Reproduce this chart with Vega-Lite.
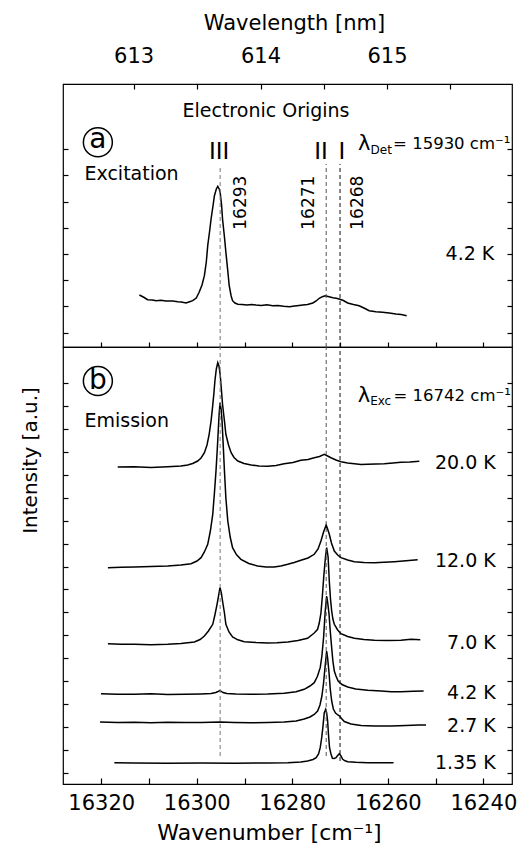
{
"$schema": "https://vega.github.io/schema/vega-lite/v6.json",
"background": "white",
"padding": {"left": 19, "top": 11, "right": 6, "bottom": 5},
"bounds": "flush",
"spacing": 0,
"config": {
  "view": {"stroke": "black", "strokeWidth": 1.2},
  "font": "DejaVu Sans",
  "axis": {"grid": false, "domain": false, "tickColor": "black", "tickWidth": 1.2, "labelColor": "black", "titleColor": "black", "labelFont": "DejaVu Sans", "titleFont": "DejaVu Sans", "titleFontWeight": "normal"},
  "text": {"font": "DejaVu Sans", "color": "black"}
},
"datasets": {
  "excitation": [
    {"wn":16312.0,"I":52},{"wn":16311.0,"I":49.5},{"wn":16310.3,"I":47.3},{"wn":16309.3,"I":47.0},{"wn":16308.5,"I":46.3},{"wn":16307.5,"I":46.8},{"wn":16306.5,"I":46.0},{"wn":16305.0,"I":46.0},{"wn":16304.0,"I":45.3},{"wn":16303.2,"I":45.0},{"wn":16302.25,"I":44},{"wn":16301.5,"I":45.2},{"wn":16300.85,"I":46.3},{"wn":16300.1,"I":49},{"wn":16299.5,"I":54.7},{"wn":16298.9,"I":62},{"wn":16298.4,"I":71.3},{"wn":16298.0,"I":85},{"wn":16297.7,"I":101.3},{"wn":16297.3,"I":116},{"wn":16297.0,"I":128},{"wn":16296.6,"I":141},{"wn":16296.3,"I":151.3},{"wn":16295.9,"I":158},{"wn":16295.6,"I":160.7},{"wn":16295.3,"I":158},{"wn":16295.1,"I":154.7},{"wn":16294.8,"I":142},{"wn":16294.6,"I":128},{"wn":16294.2,"I":110},{"wn":16293.9,"I":94.7},{"wn":16293.5,"I":76},{"wn":16293.2,"I":61.3},{"wn":16292.8,"I":51},{"wn":16292.5,"I":46.3},{"wn":16292.0,"I":44},{"wn":16291.4,"I":42.7},{"wn":16290.5,"I":42.5},{"wn":16289.5,"I":42.0},{"wn":16288.5,"I":42.6},{"wn":16287.6,"I":42},{"wn":16286.5,"I":41.6},{"wn":16285.3,"I":42.2},{"wn":16284.1,"I":41.3},{"wn":16283.0,"I":41.5},{"wn":16281.8,"I":40.8},{"wn":16280.6,"I":40.3},{"wn":16279.5,"I":41.0},{"wn":16278.6,"I":41.6},{"wn":16277.8,"I":42},{"wn":16276.8,"I":42.6},{"wn":16275.7,"I":44},{"wn":16275.0,"I":46},{"wn":16274.35,"I":48.7},{"wn":16273.7,"I":50.3},{"wn":16273.1,"I":51.3},{"wn":16272.3,"I":50.3},{"wn":16271.5,"I":49.3},{"wn":16270.8,"I":48.8},{"wn":16270.2,"I":48},{"wn":16269.3,"I":46.5},{"wn":16268.4,"I":44},{"wn":16267.2,"I":42.5},{"wn":16266.0,"I":41.3},{"wn":16265.0,"I":39},{"wn":16263.9,"I":36.3},{"wn":16262.5,"I":35.3},{"wn":16261.1,"I":34.7},{"wn":16259.7,"I":34.0},{"wn":16258.3,"I":33},{"wn":16257.2,"I":32.4},{"wn":16256.05,"I":31.3}
  ],
  "emission": [
    {"T":"20.0 K","wn":16316.55,"I":317},{"T":"20.0 K","wn":16313.07,"I":317.3},{"T":"20.0 K","wn":16309.58,"I":316.5},{"T":"20.0 K","wn":16306.08,"I":317.3},{"T":"20.0 K","wn":16303.3,"I":318},{"T":"20.0 K","wn":16301.9,"I":319},{"T":"20.0 K","wn":16300.85,"I":320.5},{"T":"20.0 K","wn":16299.8,"I":323},{"T":"20.0 K","wn":16299.1,"I":326},{"T":"20.0 K","wn":16298.4,"I":331.3},{"T":"20.0 K","wn":16297.85,"I":339},{"T":"20.0 K","wn":16297.4,"I":349.7},{"T":"20.0 K","wn":16297.0,"I":363},{"T":"20.0 K","wn":16296.7,"I":376.3},{"T":"20.0 K","wn":16296.4,"I":391},{"T":"20.0 K","wn":16296.2,"I":403},{"T":"20.0 K","wn":16295.9,"I":415},{"T":"20.0 K","wn":16295.6,"I":421.3},{"T":"20.0 K","wn":16295.35,"I":418},{"T":"20.0 K","wn":16295.1,"I":409.7},{"T":"20.0 K","wn":16294.85,"I":395},{"T":"20.0 K","wn":16294.6,"I":379.7},{"T":"20.0 K","wn":16294.2,"I":363},{"T":"20.0 K","wn":16293.9,"I":349.7},{"T":"20.0 K","wn":16293.35,"I":339},{"T":"20.0 K","wn":16292.8,"I":331.3},{"T":"20.0 K","wn":16292.2,"I":326.5},{"T":"20.0 K","wn":16291.4,"I":323},{"T":"20.0 K","wn":16290.1,"I":320.5},{"T":"20.0 K","wn":16288.6,"I":319},{"T":"20.0 K","wn":16287.0,"I":318},{"T":"20.0 K","wn":16285.15,"I":317.7},{"T":"20.0 K","wn":16283.4,"I":318.5},{"T":"20.0 K","wn":16281.7,"I":320.3},{"T":"20.0 K","wn":16279.85,"I":321.5},{"T":"20.0 K","wn":16278.2,"I":323.7},{"T":"20.0 K","wn":16276.7,"I":324.5},{"T":"20.0 K","wn":16275.4,"I":326.3},{"T":"20.0 K","wn":16274.3,"I":327.5},{"T":"20.0 K","wn":16273.3,"I":329.7},{"T":"20.0 K","wn":16272.6,"I":328},{"T":"20.0 K","wn":16271.9,"I":326.3},{"T":"20.0 K","wn":16270.85,"I":324},{"T":"20.0 K","wn":16269.8,"I":322.3},{"T":"20.0 K","wn":16268.4,"I":321},{"T":"20.0 K","wn":16267.0,"I":320.3},{"T":"20.0 K","wn":16265.6,"I":319.5},{"T":"20.0 K","wn":16264.2,"I":319.7},{"T":"20.0 K","wn":16262.5,"I":320},{"T":"20.0 K","wn":16260.75,"I":320.3},{"T":"20.0 K","wn":16258.9,"I":321},{"T":"20.0 K","wn":16257.25,"I":321.7},{"T":"20.0 K","wn":16255.4,"I":322},{"T":"20.0 K","wn":16253.4,"I":322.7},
    {"T":"12.0 K","wn":16318.6,"I":216.3},{"T":"12.0 K","wn":16315.85,"I":216.7},{"T":"12.0 K","wn":16313.05,"I":217},{"T":"12.0 K","wn":16309.6,"I":217.5},{"T":"12.0 K","wn":16306.1,"I":218},{"T":"12.0 K","wn":16303.3,"I":219},{"T":"12.0 K","wn":16301.2,"I":220.3},{"T":"12.0 K","wn":16299.95,"I":223},{"T":"12.0 K","wn":16299.1,"I":226.3},{"T":"12.0 K","wn":16298.4,"I":232},{"T":"12.0 K","wn":16297.7,"I":239.7},{"T":"12.0 K","wn":16297.15,"I":253},{"T":"12.0 K","wn":16296.65,"I":269.7},{"T":"12.0 K","wn":16296.3,"I":291},{"T":"12.0 K","wn":16295.97,"I":313},{"T":"12.0 K","wn":16295.7,"I":335},{"T":"12.0 K","wn":16295.5,"I":353},{"T":"12.0 K","wn":16295.3,"I":371},{"T":"12.0 K","wn":16295.13,"I":381.3},{"T":"12.0 K","wn":16294.9,"I":375},{"T":"12.0 K","wn":16294.7,"I":363},{"T":"12.0 K","wn":16294.45,"I":338},{"T":"12.0 K","wn":16294.2,"I":313},{"T":"12.0 K","wn":16293.9,"I":286},{"T":"12.0 K","wn":16293.5,"I":263},{"T":"12.0 K","wn":16293.0,"I":247},{"T":"12.0 K","wn":16292.5,"I":236.3},{"T":"12.0 K","wn":16291.7,"I":229.5},{"T":"12.0 K","wn":16290.75,"I":224.7},{"T":"12.0 K","wn":16289.1,"I":220.5},{"T":"12.0 K","wn":16287.25,"I":218},{"T":"12.0 K","wn":16285.5,"I":217},{"T":"12.0 K","wn":16283.8,"I":217},{"T":"12.0 K","wn":16282.4,"I":218},{"T":"12.0 K","wn":16280.95,"I":219.7},{"T":"12.0 K","wn":16279.6,"I":221.5},{"T":"12.0 K","wn":16278.2,"I":223.7},{"T":"12.0 K","wn":16276.7,"I":226},{"T":"12.0 K","wn":16275.4,"I":229.7},{"T":"12.0 K","wn":16274.6,"I":235},{"T":"12.0 K","wn":16274.0,"I":243},{"T":"12.0 K","wn":16273.45,"I":252},{"T":"12.0 K","wn":16272.9,"I":259},{"T":"12.0 K","wn":16272.6,"I":255},{"T":"12.0 K","wn":16272.25,"I":249.7},{"T":"12.0 K","wn":16271.8,"I":241},{"T":"12.0 K","wn":16271.2,"I":233},{"T":"12.0 K","wn":16270.5,"I":229},{"T":"12.0 K","wn":16269.8,"I":226.3},{"T":"12.0 K","wn":16268.4,"I":224},{"T":"12.0 K","wn":16267.0,"I":222.3},{"T":"12.0 K","wn":16265.0,"I":221.5},{"T":"12.0 K","wn":16262.8,"I":221.3},{"T":"12.0 K","wn":16260.8,"I":221.7},{"T":"12.0 K","wn":16258.65,"I":222.3},{"T":"12.0 K","wn":16256.2,"I":223.2},{"T":"12.0 K","wn":16253.75,"I":224.3},
    {"T":"7.0 K","wn":16318.6,"I":140.3},{"T":"7.0 K","wn":16315.85,"I":139.7},{"T":"7.0 K","wn":16313.05,"I":139.7},{"T":"7.0 K","wn":16309.6,"I":139.2},{"T":"7.0 K","wn":16306.1,"I":139.7},{"T":"7.0 K","wn":16303.3,"I":140.5},{"T":"7.0 K","wn":16300.5,"I":142},{"T":"7.0 K","wn":16299.3,"I":144.5},{"T":"7.0 K","wn":16298.4,"I":148},{"T":"7.0 K","wn":16297.55,"I":153},{"T":"7.0 K","wn":16296.65,"I":159.7},{"T":"7.0 K","wn":16296.2,"I":169},{"T":"7.0 K","wn":16295.75,"I":179.7},{"T":"7.0 K","wn":16295.4,"I":189},{"T":"7.0 K","wn":16295.13,"I":196.3},{"T":"7.0 K","wn":16294.85,"I":191},{"T":"7.0 K","wn":16294.6,"I":183},{"T":"7.0 K","wn":16294.2,"I":171},{"T":"7.0 K","wn":16293.9,"I":159.7},{"T":"7.0 K","wn":16293.25,"I":152},{"T":"7.0 K","wn":16292.5,"I":147},{"T":"7.0 K","wn":16291.4,"I":144.2},{"T":"7.0 K","wn":16290.05,"I":142.3},{"T":"7.0 K","wn":16287.6,"I":141.5},{"T":"7.0 K","wn":16285.15,"I":141},{"T":"7.0 K","wn":16283.2,"I":141.2},{"T":"7.0 K","wn":16280.95,"I":142},{"T":"7.0 K","wn":16278.8,"I":143.5},{"T":"7.0 K","wn":16276.8,"I":145.7},{"T":"7.0 K","wn":16275.4,"I":151},{"T":"7.0 K","wn":16274.7,"I":154.7},{"T":"7.0 K","wn":16274.35,"I":161},{"T":"7.0 K","wn":16274.0,"I":171},{"T":"7.0 K","wn":16273.7,"I":188},{"T":"7.0 K","wn":16273.4,"I":208},{"T":"7.0 K","wn":16273.05,"I":227},{"T":"7.0 K","wn":16272.8,"I":236.3},{"T":"7.0 K","wn":16272.5,"I":227},{"T":"7.0 K","wn":16272.25,"I":203},{"T":"7.0 K","wn":16272.0,"I":185},{"T":"7.0 K","wn":16271.75,"I":173},{"T":"7.0 K","wn":16271.5,"I":165},{"T":"7.0 K","wn":16271.2,"I":159.7},{"T":"7.0 K","wn":16270.5,"I":154},{"T":"7.0 K","wn":16269.8,"I":150.3},{"T":"7.0 K","wn":16268.4,"I":147.5},{"T":"7.0 K","wn":16267.0,"I":145.7},{"T":"7.0 K","wn":16265.0,"I":144.5},{"T":"7.0 K","wn":16262.8,"I":143.7},{"T":"7.0 K","wn":16260.2,"I":143.5},{"T":"7.0 K","wn":16257.25,"I":143.7},{"T":"7.0 K","wn":16255.15,"I":144.7},{"T":"7.0 K","wn":16253.2,"I":144.3},
    {"T":"4.2 K","wn":16320.05,"I":90.3},{"T":"4.2 K","wn":16316.55,"I":89.8},{"T":"4.2 K","wn":16313.05,"I":89.7},{"T":"4.2 K","wn":16309.6,"I":90.2},{"T":"4.2 K","wn":16306.1,"I":89.5},{"T":"4.2 K","wn":16302.6,"I":89.7},{"T":"4.2 K","wn":16299.1,"I":90},{"T":"4.2 K","wn":16297.0,"I":90.4},{"T":"4.2 K","wn":16296.0,"I":91.5},{"T":"4.2 K","wn":16295.13,"I":93.5},{"T":"4.2 K","wn":16294.5,"I":91.5},{"T":"4.2 K","wn":16293.7,"I":90.5},{"T":"4.2 K","wn":16291.8,"I":90},{"T":"4.2 K","wn":16288.6,"I":89.7},{"T":"4.2 K","wn":16285.15,"I":90},{"T":"4.2 K","wn":16281.7,"I":90.7},{"T":"4.2 K","wn":16279.2,"I":92.2},{"T":"4.2 K","wn":16277.5,"I":94.7},{"T":"4.2 K","wn":16276.3,"I":98},{"T":"4.2 K","wn":16275.4,"I":101.3},{"T":"4.2 K","wn":16274.75,"I":107.5},{"T":"4.2 K","wn":16274.15,"I":116.3},{"T":"4.2 K","wn":16273.8,"I":128},{"T":"4.2 K","wn":16273.45,"I":146.3},{"T":"4.2 K","wn":16273.1,"I":173},{"T":"4.2 K","wn":16272.8,"I":188},{"T":"4.2 K","wn":16272.6,"I":182},{"T":"4.2 K","wn":16272.3,"I":169.7},{"T":"4.2 K","wn":16272.05,"I":153},{"T":"4.2 K","wn":16271.75,"I":136.3},{"T":"4.2 K","wn":16271.5,"I":123},{"T":"4.2 K","wn":16271.2,"I":113},{"T":"4.2 K","wn":16270.85,"I":108},{"T":"4.2 K","wn":16270.4,"I":103},{"T":"4.2 K","wn":16269.6,"I":99.5},{"T":"4.2 K","wn":16268.4,"I":97},{"T":"4.2 K","wn":16266.7,"I":95},{"T":"4.2 K","wn":16264.2,"I":93.7},{"T":"4.2 K","wn":16261.4,"I":93},{"T":"4.2 K","wn":16259.3,"I":92.2},{"T":"4.2 K","wn":16257.25,"I":92.3},{"T":"4.2 K","wn":16254.7,"I":92.8},{"T":"4.2 K","wn":16252.5,"I":93},
    {"T":"2.7 K","wn":16320.25,"I":62},{"T":"2.7 K","wn":16316.55,"I":61.5},{"T":"2.7 K","wn":16313.05,"I":61.7},{"T":"2.7 K","wn":16309.6,"I":61.2},{"T":"2.7 K","wn":16306.1,"I":61.7},{"T":"2.7 K","wn":16302.6,"I":61.5},{"T":"2.7 K","wn":16299.1,"I":61.5},{"T":"2.7 K","wn":16295.13,"I":62},{"T":"2.7 K","wn":16292.15,"I":61.5},{"T":"2.7 K","wn":16288.6,"I":61.2},{"T":"2.7 K","wn":16285.15,"I":61.5},{"T":"2.7 K","wn":16281.7,"I":62},{"T":"2.7 K","wn":16279.2,"I":63},{"T":"2.7 K","wn":16277.5,"I":65},{"T":"2.7 K","wn":16276.3,"I":67},{"T":"2.7 K","wn":16275.4,"I":69.5},{"T":"2.7 K","wn":16274.7,"I":73},{"T":"2.7 K","wn":16274.2,"I":79},{"T":"2.7 K","wn":16273.8,"I":88},{"T":"2.7 K","wn":16273.45,"I":101},{"T":"2.7 K","wn":16273.1,"I":119},{"T":"2.7 K","wn":16272.8,"I":133},{"T":"2.7 K","wn":16272.6,"I":126},{"T":"2.7 K","wn":16272.3,"I":111},{"T":"2.7 K","wn":16272.05,"I":95},{"T":"2.7 K","wn":16271.75,"I":83},{"T":"2.7 K","wn":16271.4,"I":75},{"T":"2.7 K","wn":16270.95,"I":71},{"T":"2.7 K","wn":16270.45,"I":69},{"T":"2.7 K","wn":16270.1,"I":68},{"T":"2.7 K","wn":16269.7,"I":65.5},{"T":"2.7 K","wn":16269.1,"I":62.5},{"T":"2.7 K","wn":16267.7,"I":60},{"T":"2.7 K","wn":16265.6,"I":58.5},{"T":"2.7 K","wn":16262.8,"I":58},{"T":"2.7 K","wn":16259.3,"I":58},{"T":"2.7 K","wn":16256.2,"I":58.5},{"T":"2.7 K","wn":16253.5,"I":59},{"T":"2.7 K","wn":16252.0,"I":59},
    {"T":"1.35 K","wn":16317.25,"I":21.3},{"T":"1.35 K","wn":16313.05,"I":21},{"T":"1.35 K","wn":16306.1,"I":20.7},{"T":"1.35 K","wn":16299.1,"I":21},{"T":"1.35 K","wn":16292.15,"I":20.7},{"T":"1.35 K","wn":16285.15,"I":21},{"T":"1.35 K","wn":16280.95,"I":21.3},{"T":"1.35 K","wn":16278.2,"I":22},{"T":"1.35 K","wn":16276.8,"I":23},{"T":"1.35 K","wn":16275.65,"I":24.5},{"T":"1.35 K","wn":16275.0,"I":26.3},{"T":"1.35 K","wn":16274.5,"I":30},{"T":"1.35 K","wn":16274.15,"I":36.3},{"T":"1.35 K","wn":16273.85,"I":46},{"T":"1.35 K","wn":16273.6,"I":56.3},{"T":"1.35 K","wn":16273.3,"I":71.3},{"T":"1.35 K","wn":16273.0,"I":74.7},{"T":"1.35 K","wn":16272.8,"I":71},{"T":"1.35 K","wn":16272.6,"I":63},{"T":"1.35 K","wn":16272.4,"I":48},{"T":"1.35 K","wn":16272.2,"I":36.3},{"T":"1.35 K","wn":16271.9,"I":30},{"T":"1.35 K","wn":16271.6,"I":25.7},{"T":"1.35 K","wn":16271.2,"I":25.5},{"T":"1.35 K","wn":16270.85,"I":26.3},{"T":"1.35 K","wn":16270.5,"I":28.5},{"T":"1.35 K","wn":16270.15,"I":30.3},{"T":"1.35 K","wn":16269.8,"I":28},{"T":"1.35 K","wn":16269.45,"I":24.7},{"T":"1.35 K","wn":16268.95,"I":23.2},{"T":"1.35 K","wn":16268.4,"I":22.3},{"T":"1.35 K","wn":16266.7,"I":21.7},{"T":"1.35 K","wn":16264.2,"I":21.3},{"T":"1.35 K","wn":16261.4,"I":21.3},{"T":"1.35 K","wn":16258.8,"I":21.3}
  ],
  "origins": [
    {"site":"III","wn":16295.1,"a_lo":0,"a_hi":182,"b_lo":28,"b_hi":437},
    {"site":"II","wn":16272.9,"a_lo":0,"a_hi":183,"b_lo":28,"b_hi":437},
    {"site":"I","wn":16270.0,"a_lo":0,"a_hi":183,"b_lo":23,"b_hi":437}
  ]
},
"vconcat": [
  {
    "width": 449, "height": 263,
    "resolve": {"axis": {"x": "independent", "y": "independent"}},
    "layer": [
      {
        "data": {"name": "excitation"},
        "mark": {"type": "line", "color": "black", "strokeWidth": 1.5},
        "encoding": {
          "x": {"field": "wn", "type": "quantitative", "scale": {"domain": [16234, 16328], "reverse": true, "nice": false, "zero": false},
            "axis": {"orient": "top", "values": [16313.21, 16299.92, 16286.64, 16273.39, 16260.16, 16246.95],
              "labelExpr": "abs(1e7/datum.value - round(1e7/datum.value)) < 0.05 ? format(round(1e7/datum.value), 'd') : ''",
              "tickSize": 5, "offset": -5, "labelFontSize": 21, "labelPadding": 22, "labelBaseline": "alphabetic", "labelFlush": false, "labelOverlap": false,
              "title": "Wavelength [nm]", "titleFontSize": 21, "titleX": 231, "titleY": -60, "titleBaseline": "alphabetic"}},
          "y": {"field": "I", "type": "quantitative", "scale": {"domain": [0, 263], "nice": false, "zero": false},
            "axis": {"orient": "left", "values": [14.5, 40.7, 66.9, 93.1, 119.3, 145.5, 171.7, 197.9], "labels": false, "tickSize": 5, "offset": -5, "title": null}}
        }
      },
      {
        "data": {"name": "origins"},
        "mark": {"type": "rule", "strokeDash": [4, 3]},
        "encoding": {
          "x": {"field": "wn", "type": "quantitative", "scale": {"domain": [16234, 16328], "reverse": true, "nice": false, "zero": false},
            "axis": {"orient": "bottom", "values": [16320, 16310, 16300, 16290, 16280, 16270, 16260, 16250, 16240], "labels": false, "tickSize": 5, "offset": -5, "title": null}},
          "y": {"field": "a_lo", "type": "quantitative", "scale": {"domain": [0, 263], "nice": false, "zero": false},
            "axis": {"orient": "right", "values": [14.5, 40.7, 66.9, 93.1, 119.3, 145.5, 171.7, 197.9], "labels": false, "tickSize": 5, "offset": -5, "title": null}},
          "y2": {"field": "a_hi"},
          "color": {"field": "site", "type": "nominal", "scale": {"domain": ["III", "II", "I"], "range": ["#777777", "#555555", "#111111"]}, "legend": null},
          "strokeWidth": {"field": "site", "type": "nominal", "scale": {"domain": ["III", "II", "I"], "range": [1, 1, 1.5]}, "legend": null}
        }
      },
      {
        "data": {"values": [{"text": "Electronic Origins", "wn": 16285.5, "I": 236.3}]},
        "mark": {"type": "text", "fontSize": 19, "align": "center", "baseline": "middle"},
        "encoding": {
          "x": {"field": "wn", "type": "quantitative", "scale": {"domain": [16234, 16328], "reverse": true, "nice": false, "zero": false}, "axis": null},
          "y": {"field": "I", "type": "quantitative", "scale": {"domain": [0, 263], "nice": false, "zero": false}, "axis": null},
          "text": {"field": "text"}
        }
      },
      {
        "data": {"values": [{"text": "Excitation", "wn": 16323.5, "I": 173}]},
        "mark": {"type": "text", "fontSize": 19, "align": "left", "baseline": "middle"},
        "encoding": {
          "x": {"field": "wn", "type": "quantitative", "scale": {"domain": [16234, 16328], "reverse": true, "nice": false, "zero": false}, "axis": null},
          "y": {"field": "I", "type": "quantitative", "scale": {"domain": [0, 263], "nice": false, "zero": false}, "axis": null},
          "text": {"field": "text"}
        }
      },
      {
        "data": {"values": [{"text": "III", "wn": 16295.3, "I": 195.3}, {"text": "II", "wn": 16274.0, "I": 195.3}, {"text": "I", "wn": 16269.6, "I": 195.3}]},
        "mark": {"type": "text", "fontSize": 23, "align": "center", "baseline": "middle"},
        "encoding": {
          "x": {"field": "wn", "type": "quantitative", "scale": {"domain": [16234, 16328], "reverse": true, "nice": false, "zero": false}, "axis": null},
          "y": {"field": "I", "type": "quantitative", "scale": {"domain": [0, 263], "nice": false, "zero": false}, "axis": null},
          "text": {"field": "text"}
        }
      },
      {
        "data": {"values": [{"text": "16293", "wn": 16290.7, "I": 144.3}, {"text": "16271", "wn": 16276.4, "I": 144.3}, {"text": "16268", "wn": 16266.3, "I": 144.3}]},
        "mark": {"type": "text", "fontSize": 17, "align": "center", "baseline": "middle", "angle": 270},
        "encoding": {
          "x": {"field": "wn", "type": "quantitative", "scale": {"domain": [16234, 16328], "reverse": true, "nice": false, "zero": false}, "axis": null},
          "y": {"field": "I", "type": "quantitative", "scale": {"domain": [0, 263], "nice": false, "zero": false}, "axis": null},
          "text": {"field": "text"}
        }
      },
      {
        "data": {"values": [{"text": "4.2 K", "wn": 16237.7, "I": 93}]},
        "mark": {"type": "text", "fontSize": 19, "align": "right", "baseline": "middle"},
        "encoding": {
          "x": {"field": "wn", "type": "quantitative", "scale": {"domain": [16234, 16328], "reverse": true, "nice": false, "zero": false}, "axis": null},
          "y": {"field": "I", "type": "quantitative", "scale": {"domain": [0, 263], "nice": false, "zero": false}, "axis": null},
          "text": {"field": "text"}
        }
      },
      {
        "data": {"values": [{"text": "λ", "wn": 16266.25, "I": 203}]},
        "mark": {"type": "text", "fontSize": 21, "align": "left", "baseline": "middle"},
        "encoding": {
          "x": {"field": "wn", "type": "quantitative", "scale": {"domain": [16234, 16328], "reverse": true, "nice": false, "zero": false}, "axis": null},
          "y": {"field": "I", "type": "quantitative", "scale": {"domain": [0, 263], "nice": false, "zero": false}, "axis": null},
          "text": {"field": "text"}
        }
      },
      {
        "data": {"values": [{"text": "Det", "wn": 16263.6, "I": 197.5}]},
        "mark": {"type": "text", "fontSize": 12, "align": "left", "baseline": "middle"},
        "encoding": {
          "x": {"field": "wn", "type": "quantitative", "scale": {"domain": [16234, 16328], "reverse": true, "nice": false, "zero": false}, "axis": null},
          "y": {"field": "I", "type": "quantitative", "scale": {"domain": [0, 263], "nice": false, "zero": false}, "axis": null},
          "text": {"field": "text"}
        }
      },
      {
        "data": {"values": [{"text": "= 15930 cm⁻¹", "wn": 16258.9, "I": 203}]},
        "mark": {"type": "text", "fontSize": 16.5, "align": "left", "baseline": "middle"},
        "encoding": {
          "x": {"field": "wn", "type": "quantitative", "scale": {"domain": [16234, 16328], "reverse": true, "nice": false, "zero": false}, "axis": null},
          "y": {"field": "I", "type": "quantitative", "scale": {"domain": [0, 263], "nice": false, "zero": false}, "axis": null},
          "text": {"field": "text"}
        }
      },
      {
        "data": {"values": [{"text": "a", "wn": 16320.7, "I": 204.7}]},
        "mark": {"type": "point", "shape": "circle", "size": 841, "filled": false, "stroke": "black", "strokeWidth": 1.5, "opacity": 1},
        "encoding": {
          "x": {"field": "wn", "type": "quantitative", "scale": {"domain": [16234, 16328], "reverse": true, "nice": false, "zero": false}, "axis": null},
          "y": {"field": "I", "type": "quantitative", "scale": {"domain": [0, 263], "nice": false, "zero": false}, "axis": null}
        }
      },
      {
        "data": {"values": [{"text": "a", "wn": 16320.7, "I": 204.7}]},
        "mark": {"type": "text", "fontSize": 28, "align": "center", "baseline": "middle", "dy": -2},
        "encoding": {
          "x": {"field": "wn", "type": "quantitative", "scale": {"domain": [16234, 16328], "reverse": true, "nice": false, "zero": false}, "axis": null},
          "y": {"field": "I", "type": "quantitative", "scale": {"domain": [0, 263], "nice": false, "zero": false}, "axis": null},
          "text": {"field": "text"}
        }
      }
    ]
  },
  {
    "width": 449, "height": 437,
    "resolve": {"axis": {"x": "independent", "y": "independent"}},
    "layer": [
      {
        "data": {"name": "emission"},
        "mark": {"type": "line", "color": "black", "strokeWidth": 1.5},
        "encoding": {
          "x": {"field": "wn", "type": "quantitative", "scale": {"domain": [16234, 16328], "reverse": true, "nice": false, "zero": false},
            "axis": {"orient": "bottom", "values": [16320, 16310, 16300, 16290, 16280, 16270, 16260, 16250, 16240],
              "labelExpr": "datum.value % 20 == 0 ? format(datum.value, 'd') : ''",
              "tickSize": 6, "offset": -6, "labelFontSize": 21, "labelPadding": 25, "labelBaseline": "alphabetic", "labelFlush": false, "labelOverlap": false,
              "title": "Wavenumber [cm⁻¹]", "titleFontSize": 22, "titleX": 206, "titleY": 61, "titleBaseline": "alphabetic"}},
          "y": {"field": "I", "type": "quantitative", "scale": {"domain": [0, 437], "nice": false, "zero": false},
            "axis": {"orient": "left", "values": [11, 33.94, 56.88, 79.82, 102.76, 125.7, 148.65, 171.59, 194.53, 217.47, 240.41, 263.35, 286.29, 309.24, 332.18, 355.12, 378.06, 401],
              "labels": false, "tickSize": 5, "offset": -5,
              "title": "Intensity [a.u.]", "titleFontSize": 20, "titleX": -38, "titleY": 113, "titleBaseline": "middle", "titleAlign": "center", "titleAngle": -90}},
          "detail": {"field": "T", "type": "nominal"}
        }
      },
      {
        "data": {"name": "origins"},
        "mark": {"type": "rule", "strokeDash": [4, 3]},
        "encoding": {
          "x": {"field": "wn", "type": "quantitative", "scale": {"domain": [16234, 16328], "reverse": true, "nice": false, "zero": false}, "axis": null},
          "y": {"field": "b_lo", "type": "quantitative", "scale": {"domain": [0, 437], "nice": false, "zero": false},
            "axis": {"orient": "right", "values": [11, 33.94, 56.88, 79.82, 102.76, 125.7, 148.65, 171.59, 194.53, 217.47, 240.41, 263.35, 286.29, 309.24, 332.18, 355.12, 378.06, 401], "labels": false, "tickSize": 5, "offset": -5, "title": null}},
          "y2": {"field": "b_hi"},
          "color": {"field": "site", "type": "nominal", "scale": {"domain": ["III", "II", "I"], "range": ["#777777", "#555555", "#111111"]}, "legend": null},
          "strokeWidth": {"field": "site", "type": "nominal", "scale": {"domain": ["III", "II", "I"], "range": [1, 1, 1.5]}, "legend": null}
        }
      },
      {
        "data": {"values": [{"text": "Emission", "wn": 16323.5, "I": 363}]},
        "mark": {"type": "text", "fontSize": 19, "align": "left", "baseline": "middle"},
        "encoding": {
          "x": {"field": "wn", "type": "quantitative", "scale": {"domain": [16234, 16328], "reverse": true, "nice": false, "zero": false}, "axis": null},
          "y": {"field": "I", "type": "quantitative", "scale": {"domain": [0, 437], "nice": false, "zero": false}, "axis": null},
          "text": {"field": "text"}
        }
      },
      {
        "data": {"values": [{"text": "20.0 K", "wn": 16237.4, "I": 321.3}, {"text": "12.0 K", "wn": 16237.4, "I": 223}, {"text": "7.0 K", "wn": 16237.4, "I": 141.3}, {"text": "4.2 K", "wn": 16237.4, "I": 91.3}, {"text": "2.7 K", "wn": 16237.4, "I": 58}, {"text": "1.35 K", "wn": 16237.4, "I": 21.3}]},
        "mark": {"type": "text", "fontSize": 19, "align": "right", "baseline": "middle"},
        "encoding": {
          "x": {"field": "wn", "type": "quantitative", "scale": {"domain": [16234, 16328], "reverse": true, "nice": false, "zero": false}, "axis": null},
          "y": {"field": "I", "type": "quantitative", "scale": {"domain": [0, 437], "nice": false, "zero": false}, "axis": null},
          "text": {"field": "text"}
        }
      },
      {
        "data": {"values": [{"text": "λ", "wn": 16266.3, "I": 388}]},
        "mark": {"type": "text", "fontSize": 21, "align": "left", "baseline": "middle"},
        "encoding": {
          "x": {"field": "wn", "type": "quantitative", "scale": {"domain": [16234, 16328], "reverse": true, "nice": false, "zero": false}, "axis": null},
          "y": {"field": "I", "type": "quantitative", "scale": {"domain": [0, 437], "nice": false, "zero": false}, "axis": null},
          "text": {"field": "text"}
        }
      },
      {
        "data": {"values": [{"text": "Exc", "wn": 16263.7, "I": 383}]},
        "mark": {"type": "text", "fontSize": 12, "align": "left", "baseline": "middle"},
        "encoding": {
          "x": {"field": "wn", "type": "quantitative", "scale": {"domain": [16234, 16328], "reverse": true, "nice": false, "zero": false}, "axis": null},
          "y": {"field": "I", "type": "quantitative", "scale": {"domain": [0, 437], "nice": false, "zero": false}, "axis": null},
          "text": {"field": "text"}
        }
      },
      {
        "data": {"values": [{"text": "= 16742 cm⁻¹", "wn": 16258.8, "I": 388}]},
        "mark": {"type": "text", "fontSize": 16.5, "align": "left", "baseline": "middle"},
        "encoding": {
          "x": {"field": "wn", "type": "quantitative", "scale": {"domain": [16234, 16328], "reverse": true, "nice": false, "zero": false}, "axis": null},
          "y": {"field": "I", "type": "quantitative", "scale": {"domain": [0, 437], "nice": false, "zero": false}, "axis": null},
          "text": {"field": "text"}
        }
      },
      {
        "data": {"values": [{"text": "b", "wn": 16320.7, "I": 403}]},
        "mark": {"type": "point", "shape": "circle", "size": 841, "filled": false, "stroke": "black", "strokeWidth": 1.5, "opacity": 1},
        "encoding": {
          "x": {"field": "wn", "type": "quantitative", "scale": {"domain": [16234, 16328], "reverse": true, "nice": false, "zero": false}, "axis": null},
          "y": {"field": "I", "type": "quantitative", "scale": {"domain": [0, 437], "nice": false, "zero": false}, "axis": null}
        }
      },
      {
        "data": {"values": [{"text": "b", "wn": 16320.7, "I": 403}]},
        "mark": {"type": "text", "fontSize": 28, "align": "center", "baseline": "middle"},
        "encoding": {
          "x": {"field": "wn", "type": "quantitative", "scale": {"domain": [16234, 16328], "reverse": true, "nice": false, "zero": false}, "axis": null},
          "y": {"field": "I", "type": "quantitative", "scale": {"domain": [0, 437], "nice": false, "zero": false}, "axis": null},
          "text": {"field": "text"}
        }
      }
    ]
  }
]
}
